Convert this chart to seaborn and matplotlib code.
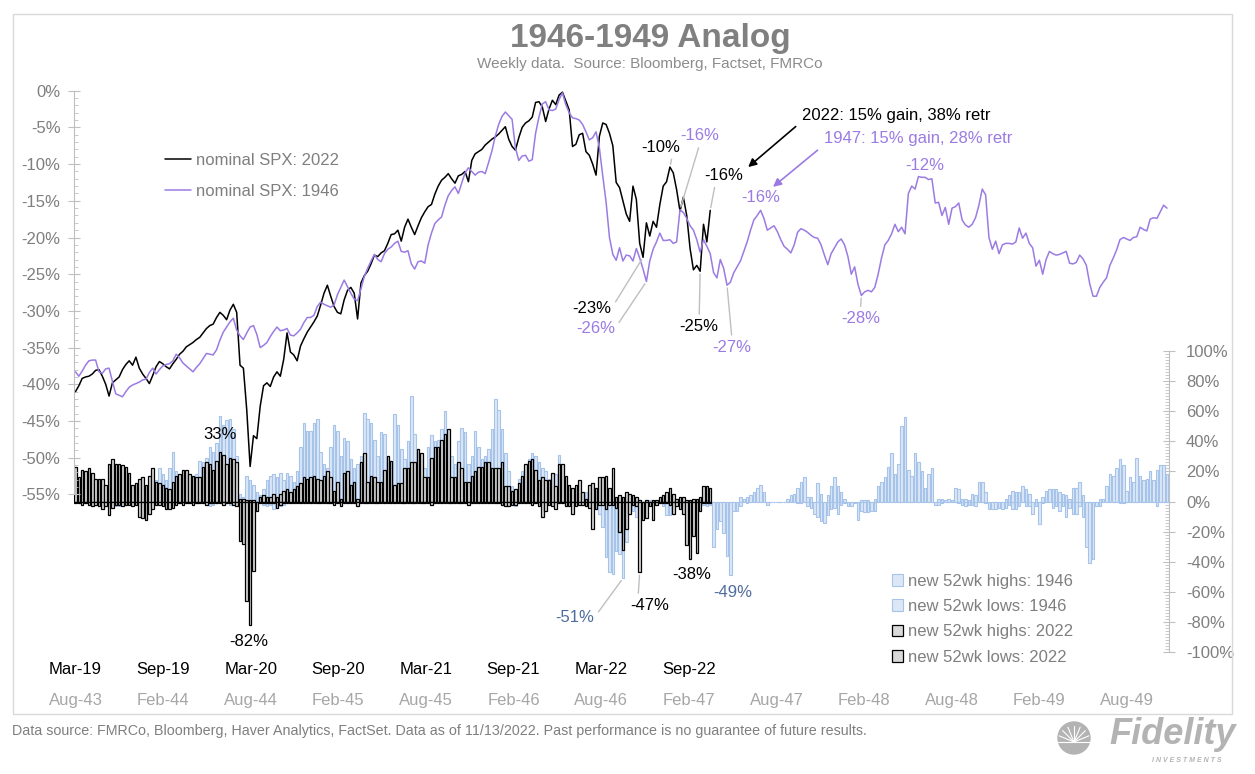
import numpy as np
import matplotlib
matplotlib.use("Agg")
import matplotlib.pyplot as plt
import seaborn as sns
from matplotlib.ticker import FixedLocator, FuncFormatter
from matplotlib.patches import Rectangle, Circle

# ---- weekly S&P 500 drawdown from peak (%) ----
spx_2022 = [
    -41.0, -40.2, -39.2, -39.0, -38.9, -38.6, -38.1, -38.0, -38.9, -40.0,
    -41.6, -39.8, -39.4, -39.0, -38.0, -37.3, -36.8, -37.4, -36.3, -37.8,
    -38.6, -39.2, -39.9, -38.8, -37.6, -36.9, -37.2, -37.6, -37.9, -37.2,
    -36.6, -35.9, -35.5, -34.9, -34.6, -34.3, -33.9, -33.6, -33.0, -32.4,
    -32.0, -31.8, -30.9, -30.2, -30.6, -31.2, -29.9, -29.1, -30.2, -37.4,
    -37.8, -43.5, -51.2, -47.0, -47.4, -43.0, -40.2, -39.8, -40.3, -39.0,
    -38.3, -38.9, -36.6, -33.0, -35.6, -36.0, -36.8, -34.8, -33.8, -32.9,
    -32.2, -31.5, -30.7, -29.2, -27.6, -26.5, -28.0, -29.4, -30.2, -30.4,
    -28.5, -27.2, -26.8, -27.6, -31.1, -26.2, -25.2, -24.6, -23.6, -22.4,
    -22.6, -22.1, -21.8, -20.8, -19.6, -19.5, -19.0, -20.5, -18.6, -17.5,
    -18.6, -19.6, -18.4, -17.3, -16.5, -15.8, -15.5, -14.1, -13.0, -12.2,
    -11.8, -11.3, -12.0, -12.6, -11.6, -11.4, -11.0, -12.4, -9.5, -8.6,
    -8.3, -8.0, -7.4, -7.0, -6.6, -6.3, -5.9, -5.4, -4.9, -6.6,
    -7.6, -8.1, -6.4, -5.0, -4.4, -4.1, -3.6, -1.6, -1.5, -2.2,
    -4.2, -2.5, -1.3, -1.9, -0.6, -0.2, -1.4, -2.6, -7.6, -7.3,
    -6.0, -5.8, -8.3, -8.8, -10.0, -11.5, -6.2, -4.4, -4.6, -5.8,
    -7.5, -12.5, -13.2, -15.0, -16.8, -17.8, -13.0, -14.8, -20.8, -22.7,
    -18.0, -19.8, -17.8, -18.6, -15.5, -13.0, -12.4, -10.4, -11.2, -13.5,
    -16.4, -14.5, -17.0, -21.5, -24.4, -23.8, -24.6, -18.2, -20.6, -16.3,
]

spx_1946 = [
    -38.3, -38.9, -38.2, -37.4, -36.8, -36.7, -36.7, -38.3, -38.5, -37.9,
    -37.8, -39.6, -41.3, -41.5, -41.7, -41.0, -40.4, -40.1, -39.9, -39.7,
    -39.4, -39.3, -38.4, -37.8, -38.6, -38.0, -37.5, -37.3, -37.2, -36.8,
    -35.9, -36.4, -37.1, -37.5, -37.9, -38.3, -37.7, -37.2, -36.5, -35.8,
    -35.9, -36.0, -35.3, -34.0, -32.9, -32.2, -31.5, -31.0, -32.6, -33.4,
    -33.9, -33.0, -32.2, -32.0, -33.2, -35.0, -34.7, -34.3, -33.5, -32.8,
    -32.2, -32.7, -32.6, -32.4, -33.3, -33.4, -33.0, -32.5, -31.6, -30.9,
    -30.9, -30.6, -29.4, -28.8, -29.1, -29.3, -29.5, -29.2, -27.8, -26.8,
    -25.8, -26.7, -27.6, -28.4, -28.6, -27.0, -25.3, -24.2, -23.2, -22.3,
    -23.0, -23.3, -22.2, -21.6, -21.3, -20.8, -20.5, -21.9, -22.0, -21.8,
    -23.6, -24.3, -23.3, -23.2, -23.5, -21.0, -19.4, -18.1, -17.6, -17.2,
    -15.6, -14.3, -13.6, -13.1, -14.0, -12.6, -11.2, -10.5, -11.0, -11.5,
    -11.1, -11.0, -11.3, -9.8, -8.2, -6.2, -4.6, -3.5, -2.9, -3.4,
    -3.9, -7.8, -9.5, -8.9, -8.8, -9.6, -9.4, -5.8, -3.6, -1.8,
    -1.5, -2.6, -2.7, -2.5, -1.2, -0.3, -1.9, -3.0, -3.7, -3.8,
    -4.0, -4.6, -5.6, -6.7, -6.4, -5.6, -7.8, -11.6, -15.2, -20.0,
    -22.3, -23.1, -21.4, -23.2, -22.4, -22.5, -23.2, -21.5, -22.8, -24.3,
    -26.0, -23.2, -21.6, -20.6, -19.4, -20.4, -20.4, -20.3, -20.8, -20.6,
    -16.2, -16.6, -17.4, -18.4, -19.0, -20.3, -22.0, -20.3, -21.2, -22.2,
    -24.8, -25.5, -23.0, -24.2, -26.5, -26.1, -24.8, -24.0, -23.2, -21.9,
    -20.6, -19.0, -17.6, -17.0, -16.3, -17.4, -19.0, -18.7, -18.4, -19.2,
    -20.3, -21.2, -21.6, -22.1, -21.0, -19.3, -18.8, -19.0, -19.3, -19.7,
    -20.0, -20.1, -21.0, -22.4, -23.7, -22.2, -21.4, -20.6, -20.2, -21.0,
    -22.6, -25.0, -24.0, -26.4, -27.9, -27.4, -27.2, -27.4, -26.8, -25.0,
    -22.8, -21.0, -20.4, -19.5, -18.2, -19.2, -18.6, -19.5, -14.0, -13.0,
    -13.4, -11.7, -11.8, -11.8, -12.1, -12.0, -15.3, -15.2, -17.0, -15.9,
    -18.2, -16.0, -15.8, -15.3, -17.6, -18.3, -18.6, -18.2, -17.3, -15.6,
    -13.4, -14.2, -20.0, -21.6, -20.5, -22.2, -21.0, -20.8, -20.8, -20.9,
    -20.6, -18.7, -20.1, -19.4, -20.8, -21.4, -23.9, -23.1, -25.0, -23.0,
    -21.9, -22.2, -22.4, -22.3, -22.1, -21.9, -23.5, -23.6, -23.4, -22.4,
    -22.9, -23.8, -26.3, -28.0, -28.0, -26.8, -26.1, -25.5, -23.8, -22.8,
    -21.7, -20.3, -20.0, -20.2, -20.4, -20.0, -19.9, -18.6, -18.9, -19.1,
    -17.5, -17.3, -17.4, -16.5, -15.6, -16.0,
]

# ---- new 52-week highs / lows (% of issues), weekly ----
highs_1946 = [
    5, 8, 6, 4, 3, 6, 8, 5, 4, 3,
    6, 9, 5, 3, 2, 4, 6, 8, 10, 7,
    5, 4, 8, 12, 14, 22, 18, 14, 22, 33,
    20, 17, 12, 10, 8, 12, 18, 27, 26, 29,
    36, 33, 39, 57, 51, 54, 55, 48, 30, 5,
    3, 17, 14, 11, 6, 4, 8, 14, 17, 18,
    16, 19, 14, 19, 17, 13, 20, 36, 52, 47,
    47, 52, 55, 33, 25, 22, 36, 51, 47, 30,
    42, 40, 28, 22, 25, 30, 59, 55, 52, 41,
    30, 46, 45, 30, 25, 58, 51, 35, 28, 40,
    70, 45, 35, 30, 22, 36, 44, 40, 41, 48,
    60, 40, 30, 25, 40, 49, 46, 25, 30, 47,
    36, 28, 30, 35, 48, 68, 61, 48, 32, 20,
    10, 8, 15, 20, 22, 28, 32, 30, 26, 22,
    20, 15, 12, 18, 31, 25, 10, 6, 4, 3,
    5, 3, 6, 2, 1, 1, 0, 0, 0, 0,
    0, 0, 0, 0, 0, 0, 0, 0, 1, 0,
    0, 1, 0, 0, 1, 2, 1, 0, 0, 0,
    0, 1, 0, 0, 0, 0, 1, 0, 0, 0,
    0, 0, 0, 0, 0, 0, 0, 0, 3, 2,
    3, 4, 6, 9, 11, 6, 0, 0, 0, 0,
    0, 0, 2, 4, 5, 9, 13, 16, 3, 3,
    0, 12, 5, 0, 4, 10, 16, 10, 6, 2,
    0, 0, 0, 0, 1, 1, 1, 0, 2, 10,
    13, 16, 23, 32, 18, 25, 50, 56, 21, 17,
    32, 26, 20, 9, 18, 22, 0, 2, 2, 1,
    2, 1, 9, 8, 2, 2, 1, 5, 4, 13,
    13, 6, 0, 0, 0, 0, 0, 2, 4, 7,
    6, 6, 10, 8, 5, 0, 2, 0, 3, 7,
    8, 8, 8, 6, 5, 4, 2, 9, 9, 13,
    4, 0, 0, 0, 0, 2, 2, 10, 18, 17,
    22, 28, 24, 7, 16, 13, 29, 17, 14, 15,
    20, 14, 21, 24, 24, 18,
]

lows_1946 = [
    0, -1, 0, -1, -2, -1, 0, -1, -2, -1,
    -1, -2, -3, -3, -2, -1, 0, -1, -1, 0,
    -1, -1, 0, 0, -1, -2, -1, 0, 0, -1,
    0, -1, -1, 0, 0, -1, -1, 0, -1, -2,
    -3, -2, -1, 0, 0, -1, -2, -1, 0, 0,
    0, 0, -1, -1, -2, -1, -2, -3, -2, -5,
    -4, -3, -2, -1, 0, -1, 0, 0, 0, 0,
    0, 0, 0, 0, -1, -1, 0, 0, 0, -1,
    0, 0, -1, -1, 0, 0, 0, 0, 0, 0,
    -1, 0, 0, 0, -1, 0, 0, 0, -1, 0,
    0, 0, 0, 0, -1, 0, 0, 0, 0, 0,
    0, 0, 0, 0, 0, 0, 0, -1, 0, 0,
    0, -1, 0, 0, 0, 0, 0, 0, 0, 0,
    -2, -3, -1, 0, 0, -1, 0, 0, -1, -2,
    -1, 0, -1, -2, 0, 0, 0, -1, -1, -2,
    -1, -2, -3, -2, -5, -5, -8, -17, -37, -47,
    -48, -33, -35, -51, -27, -6, -6, -10, -3, -2,
    -1, -1, -2, -1, -1, -3, -9, -9, -6, -2,
    -1, -2, -3, -5, -4, -2, -3, -2, -3, -2,
    -30, -18, -13, -21, -36, -49, -6, -6, -3, 0,
    -1, 0, 0, 0, 0, 0, -2, 0, 0, 0,
    0, 0, 0, 0, 0, -1, -1, 0, -3, -4,
    -8, -10, -13, -14, -9, -5, -4, -8, -2, -1,
    -3, -3, -1, -12, -6, -7, -7, -6, -6, 0,
    0, 0, 0, 0, 0, 0, 0, 0, 0, 0,
    0, 0, 0, 0, 0, 0, -2, -2, -1, 0,
    0, 0, 0, -1, -2, -3, -2, -2, -3, 0,
    0, -1, -5, -5, -5, -4, -5, -4, -2, -5,
    -5, -3, 0, -3, -3, -8, -3, -15, -1, 0,
    0, -4, -3, -6, -3, -10, -4, -8, -8, -3,
    -10, -30, -41, -38, -3, -3, 0, 0, 0, 0,
    0, -1, -1, 0, 0, 0, 0, 0, 0, 0,
    0, 0, -3, 0, 0, 0,
]

highs_2022 = [
    23, 16, 21, 20, 22, 19, 15, 15, 15, 11,
    25, 28, 25, 25, 24, 23, 19, 11, 12, 15,
    16, 11, 17, 22, 13, 12, 11, 9, 8, 13,
    17, 18, 21, 21, 18, 17, 16, 16, 23, 26,
    25, 21, 27, 33, 31, 25, 29, 28, 26, 2,
    2, 1, 1, 1, 0, 3, 4, 3, 3, 5,
    3, 5, 7, 8, 6, 8, 10, 12, 16, 15,
    16, 17, 15, 14, 17, 20, 16, 7, 13, 2,
    19, 20, 11, 13, 2, 26, 32, 13, 17, 16,
    13, 13, 21, 30, 27, 11, 12, 12, 22, 22,
    26, 26, 35, 32, 16, 16, 29, 36, 36, 41,
    45, 48, 16, 16, 26, 22, 13, 13, 17, 20,
    23, 23, 26, 26, 22, 22, 22, 26, 10, 10,
    7, 8, 12, 17, 25, 27, 28, 21, 14, 16,
    14, 14, 19, 10, 25, 25, 17, 11, 9, 11,
    14, 6, 2, 11, 12, 9, 16, 16, 17, 9,
    22, 3, 4, 3, 6, 5, 4, 3, 1, 0,
    1, 0, 1, 1, 3, 4, 6, 9, 5, 2,
    3, 3, 1, 1, 2, 2, 3, 10, 10, 9,
]

lows_2022 = [
    -1, -1, -2, -1, -2, -3, -2, -3, -5, -3,
    -9, -4, -2, -2, -3, -2, -2, -3, -2, -10,
    -11, -12, -8, -5, -2, -2, -3, -5, -5, -4,
    -2, -1, -2, -1, -1, -2, -1, -1, -1, -2,
    -1, -1, -1, -1, -2, -1, -1, -2, -3, -26,
    -28, -66, -82, -46, -6, -1, -1, -1, -1, -1,
    -4, -2, -1, -1, -1, -1, -1, -1, -1, -1,
    -1, -1, -1, -1, -1, -1, -1, -2, -1, -3,
    -1, -1, -1, -1, -3, -1, -1, -1, -1, -1,
    -1, -1, -1, -1, -1, -1, -1, -1, -1, -1,
    -1, -1, -1, -1, -1, -1, -2, -1, -1, -1,
    -1, -1, -1, -1, -1, -1, -1, -2, -1, -1,
    -1, -1, -1, -1, -1, -1, -1, -2, -3, -3,
    -2, -2, -1, -1, -1, -1, -2, -1, -3, -10,
    -6, -2, -3, -5, -1, -1, -3, -3, -8, -3,
    -2, -2, -3, -4, -18, -5, -2, -2, -5, -2,
    -2, -4, -20, -32, -18, -8, -2, -3, -47, -12,
    -11, -3, -12, -2, -1, -1, -1, -2, -8, -3,
    -5, -8, -29, -38, -23, -34, -6, -1, -1, -1,
]

labels_2022 = ["Mar-19", "Sep-19", "Mar-20", "Sep-20", "Mar-21", "Sep-21", "Mar-22", "Sep-22"]
labels_1946 = ["Aug-43", "Feb-44", "Aug-44", "Feb-45", "Aug-45", "Feb-46", "Aug-46",
               "Feb-47", "Aug-47", "Feb-48", "Aug-48", "Feb-49", "Aug-49"]
WEEKS_PER_HALF_YEAR = 365.25 / 2 / 7

PURPLE = "#9b7be3"
LBLUE = "#dce7f6"
LBLUE_EDGE = "#a6c3ea"
GREY_BAR = "#d9d9d9"
SLATE = "#4f6d9c"
AXIS_GREY = "#bfbfbf"
TEXT_GREY = "#7f7f7f"

sns.set_theme(style="white")
plt.rcParams["font.family"] = ["Liberation Sans", "DejaVu Sans"]

fig = plt.figure(figsize=(12.55, 7.74), dpi=100)
ax = fig.add_axes([0.0588, 0.157, 0.8724, 0.7332])
axb = ax.twinx()
ax.set_zorder(2)
axb.set_zorder(1)
ax.patch.set_visible(False)

wk46 = np.arange(len(spx_1946))
wk22 = np.arange(len(spx_2022))

# bars (right axis)
axb.bar(wk46, highs_1946, width=0.75, color=LBLUE, edgecolor=LBLUE_EDGE, lw=0.8,
        label="new 52wk highs: 1946")
axb.bar(wk46, lows_1946, width=0.75, color=LBLUE, edgecolor=LBLUE_EDGE, lw=0.8,
        label="new 52wk lows: 1946")
axb.bar(wk22, highs_2022, width=0.75, color=GREY_BAR, edgecolor="black", lw=0.9,
        label="new 52wk highs: 2022")
axb.bar(wk22, lows_2022, width=0.75, color=GREY_BAR, edgecolor="black", lw=0.9,
        label="new 52wk lows: 2022")

# lines (left axis)
sns.lineplot(x=wk22, y=spx_2022, ax=ax, color="black", lw=1.1, label="nominal SPX: 2022")
sns.lineplot(x=wk46, y=spx_1946, ax=ax, color=PURPLE, lw=1.1, label="nominal SPX: 1946")

ax.set_xlim(-0.5, 325.5)
ax.set_ylim(-76.54, 0.78)
axb.set_ylim(-100.1, 276.2)
ax.set_xlabel("")
ax.set_ylabel("")
axb.set_ylabel("")

pct = FuncFormatter(lambda v, p: f"{int(round(v))}%")

ax.yaxis.set_major_locator(FixedLocator(np.arange(-55, 1, 5)))
ax.yaxis.set_minor_locator(FixedLocator(np.arange(-55, 1, 1)))
ax.yaxis.set_major_formatter(pct)
ax.tick_params(axis="y", which="major", left=True, direction="inout", length=9, width=0.8,
               color=AXIS_GREY, labelcolor=TEXT_GREY, labelsize=12, pad=5)
ax.tick_params(axis="y", which="minor", left=True, direction="in", length=3, width=0.6,
               color=AXIS_GREY)
for s in ["top", "right", "bottom"]:
    ax.spines[s].set_visible(False)
ax.spines["left"].set_bounds(-55, 0)
ax.spines["left"].set_color(AXIS_GREY)
ax.spines["left"].set_linewidth(0.8)

axb.yaxis.set_major_locator(FixedLocator(np.arange(-100, 101, 20)))
axb.yaxis.set_minor_locator(FixedLocator(np.arange(-100, 101, 2)))
axb.yaxis.set_major_formatter(pct)
axb.tick_params(axis="y", which="major", right=True, direction="inout", length=9, width=0.8,
                color=AXIS_GREY, labelcolor=TEXT_GREY, labelsize=12, pad=8)
axb.tick_params(axis="y", which="minor", right=True, direction="in", length=3, width=0.6,
                color=AXIS_GREY)
for s in ["top", "left", "bottom"]:
    axb.spines[s].set_visible(False)
axb.spines["right"].set_bounds(-100, 100)
axb.spines["right"].set_color(AXIS_GREY)
axb.spines["right"].set_linewidth(0.8)

# two rows of date labels
ax.set_xticks(np.arange(len(labels_2022)) * WEEKS_PER_HALF_YEAR, labels_2022)
ax.tick_params(axis="x", length=0, pad=6.5, labelsize=12, labelcolor="black")
sec = ax.secondary_xaxis("bottom")
sec.set_xticks(np.arange(len(labels_1946)) * WEEKS_PER_HALF_YEAR, labels_1946)
sec.tick_params(axis="x", length=0, pad=29, labelsize=12, labelcolor="#a6a6a6")
sec.spines["bottom"].set_visible(False)

# legends
handles, labels = ax.get_legend_handles_labels()
leg = ax.legend(handles, labels, loc="upper left", bbox_to_anchor=(0.083, 0.881),
                frameon=False, fontsize=12, handlelength=1.6, handletextpad=0.25,
                labelspacing=1.0, borderaxespad=0, borderpad=0)
for t in leg.get_texts():
    t.set_color(TEXT_GREY)

bh, bl = axb.get_legend_handles_labels()
legb = axb.legend(bh, bl, loc="upper left", bbox_to_anchor=(0.747, 0.139),
                  frameon=False, fontsize=12, handlelength=0.7, handleheight=0.7,
                  handletextpad=0.3, labelspacing=0.62, borderaxespad=0, borderpad=0)
for t in legb.get_texts():
    t.set_color(TEXT_GREY)


def note(axis, text, xy, off, color, leader=False, relpos=(0.5, 0.5)):
    kw = {}
    if leader:
        kw["arrowprops"] = dict(arrowstyle="-", color=AXIS_GREY, lw=1, shrinkA=1,
                                shrinkB=2, relpos=relpos)
    axis.annotate(text, xy=xy, xytext=off, textcoords="offset pixels", ha="center",
                  va="center", fontsize=12, color=color, **kw)


# line call-outs
note(ax, "-23%", (169, spx_2022[169]), (-51, -51), "black", True, (1, 0.5))
note(ax, "-26%", (170, spx_1946[170]), (-51, -47), PURPLE, True, (1, 0.5))
note(ax, "-10%", (177, spx_2022[177]), (-9, 20), "black", True, (0.8, 0))
note(ax, "-16%", (180, spx_1946[180]), (20, 74), PURPLE, True, (0.5, 0))
note(ax, "-16%", (189, spx_2022[189]), (13, 35), "black", True, (0.3, 0))
note(ax, "-25%", (186, spx_2022[186]), (-1, -55), "black", True, (0.5, 1))
note(ax, "-27%", (194, spx_1946[194]), (5, -62), PURPLE, True, (0.5, 1))
note(ax, "-16%", (204, spx_1946[204]), (0, 13), PURPLE)
note(ax, "-28%", (234, spx_1946[234]), (-1, -23), PURPLE, True, (0.5, 1))
note(ax, "-12%", (251, spx_1946[251]), (6, 11), PURPLE)

# bar call-outs
note(axb, "33%", (43, highs_2022[43]), (0, 17), "black")
note(axb, "-82%", (52, lows_2022[52]), (-1, -16), "black")
note(axb, "-51%", (163, lows_1946[163]), (-48, -39), SLATE, True, (1, 0.5))
note(axb, "-47%", (168, lows_2022[168]), (10, -33), "black", True, (0.2, 1))
note(axb, "-38%", (183, lows_2022[183]), (2, -16), "black")
note(axb, "-49%", (195, lows_1946[195]), (2, -17), SLATE)

ax.annotate("2022: 15% gain, 38% retr", xy=(200.3, -10.4), xytext=(54, 52),
            textcoords="offset pixels", ha="left", va="center", fontsize=12, color="black",
            arrowprops=dict(arrowstyle="-|>", color="black", lw=1.2, mutation_scale=12,
                            shrinkA=3, shrinkB=0, relpos=(0, 0.1)))
ax.annotate("1947: 15% gain, 28% retr", xy=(207.7, -13.1), xytext=(51, 48),
            textcoords="offset pixels", ha="left", va="center", fontsize=12, color=PURPLE,
            arrowprops=dict(arrowstyle="-|>", color=PURPLE, lw=1.2, mutation_scale=12,
                            shrinkA=3, shrinkB=0, relpos=(0, 0.1)))

# titles, footer, frame
fig.text(650 / 1255, 1 - 38 / 774, "1946-1949 Analog", ha="center", va="center",
         fontsize=24, fontweight="bold", color="#808080")
fig.text(650 / 1255, 1 - 64 / 774, "Weekly data.  Source: Bloomberg, Factset, FMRCo",
         ha="center", va="center", fontsize=11, color="#8c8c8c")
fig.text(12 / 1255, 1 - 731 / 774,
         "Data source: FMRCo, Bloomberg, Haver Analytics, FactSet. Data as of 11/13/2022. "
         "Past performance is no guarantee of future results.",
         ha="left", va="center", fontsize=10.25, color=TEXT_GREY)
fig.patches.append(Rectangle((13 / 1255, 1 - 714 / 774), 1219 / 1255, 700 / 774,
                             transform=fig.transFigure, fill=False, edgecolor="#d9d9d9", lw=1))

# Fidelity mark
fig.text(1236 / 1255, 1 - 735 / 774, "Fidelity", ha="right", va="center", fontsize=26,
         fontweight="bold", fontstyle="italic", color="#b3b3b3")
fig.text(1222 / 1255, 1 - 761 / 774, "I N V E S T M E N T S", ha="right", va="center",
         fontsize=5, fontweight="bold", fontstyle="italic", color="#b3b3b3")
fig.patches.append(Circle((10.74, 0.36), 0.16, transform=fig.dpi_scale_trans,
                          color="#b3b3b3"))
for a in np.linspace(0, np.pi, 9):
    fig.lines.append(plt.Line2D([10.74, 10.74 + 0.16 * np.cos(a)],
                                [0.36 - 0.04, 0.36 - 0.04 + 0.16 * np.sin(a)],
                                transform=fig.dpi_scale_trans, color="white", lw=0.8))

fig.savefig("out.png", dpi=100)
